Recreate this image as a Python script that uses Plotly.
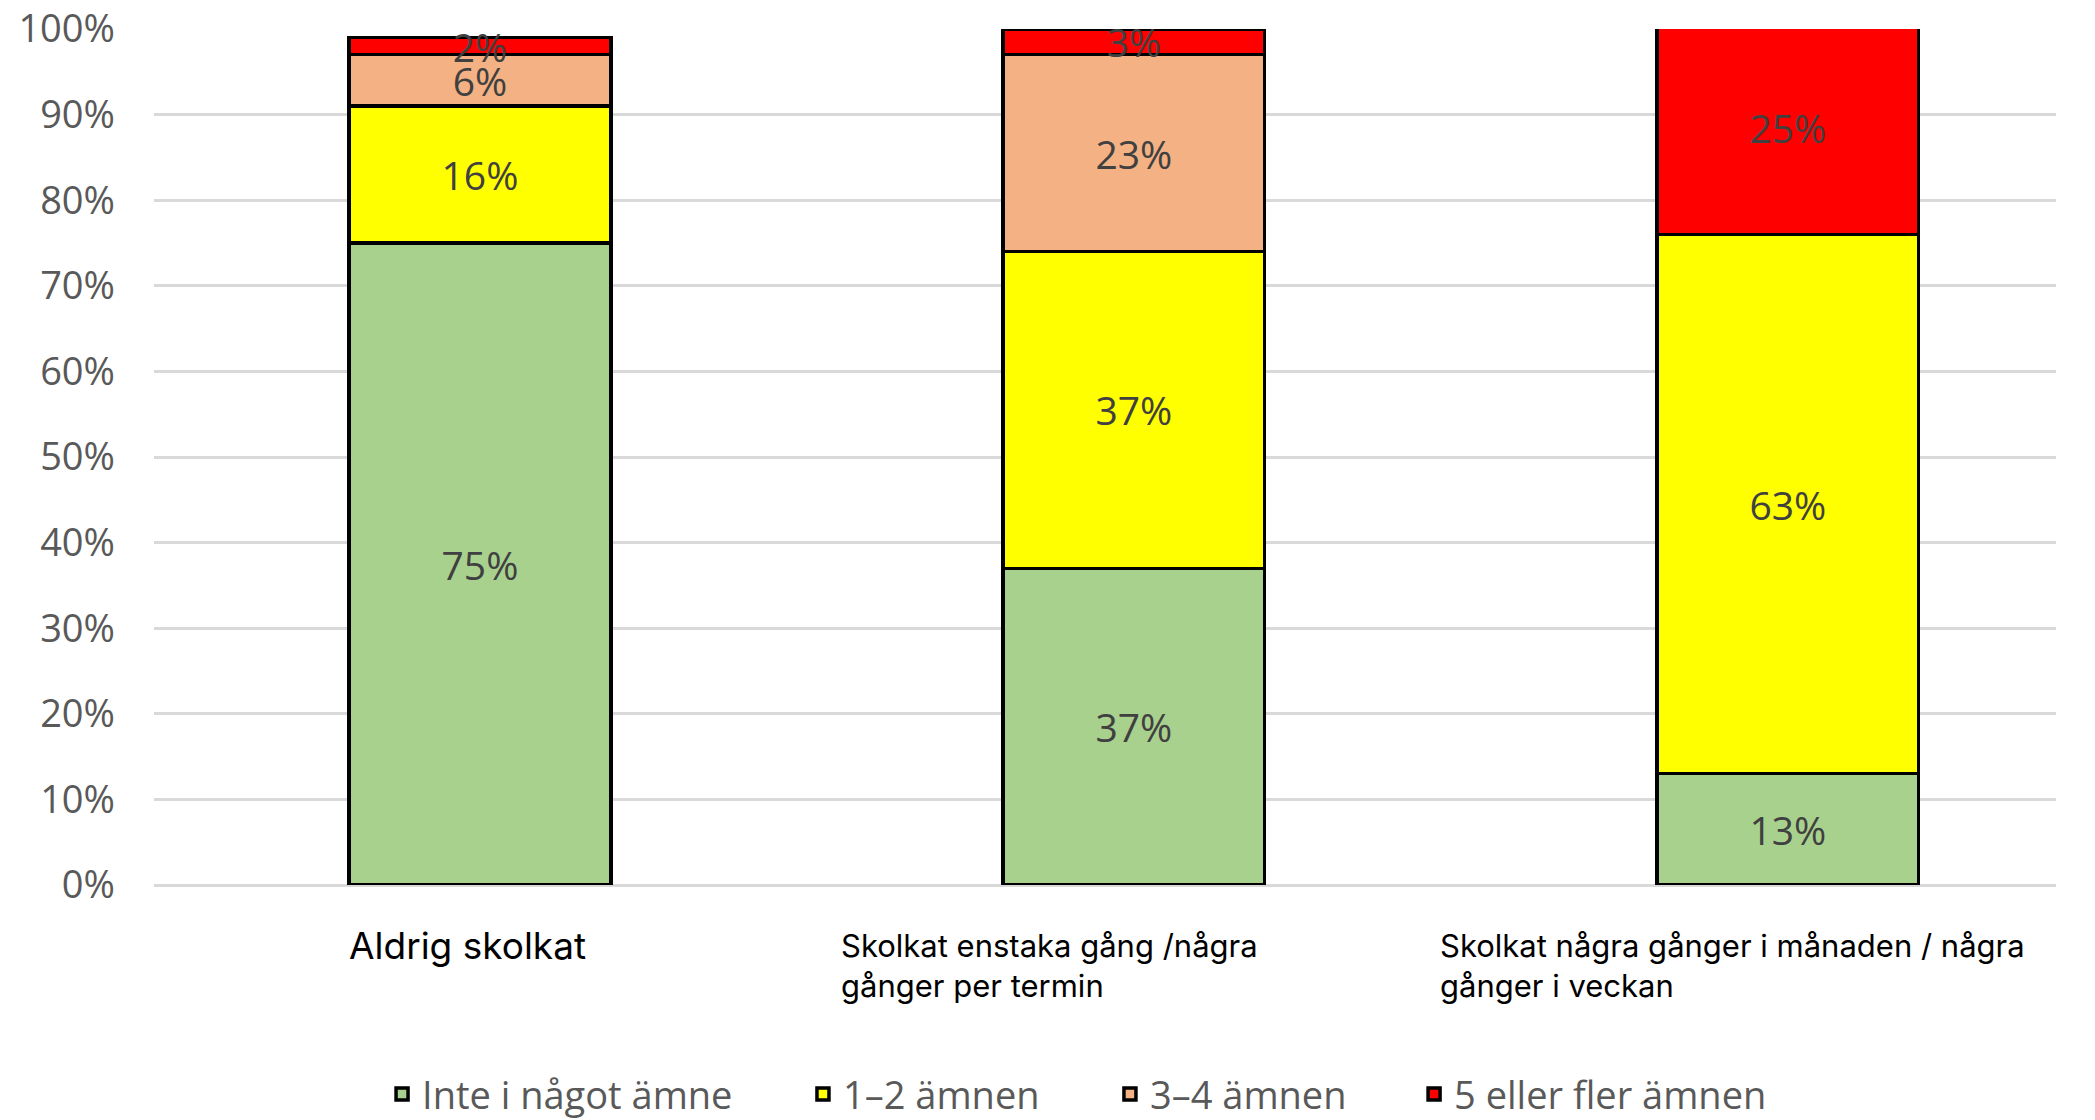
import plotly.graph_objects as go

# ---- data ----
categories = ["Aldrig skolkat",
              "Skolkat enstaka gång /några gånger per termin",
              "Skolkat några gånger i månaden / några gånger i veckan"]
category_lines = [["Aldrig skolkat"],
                  ["Skolkat enstaka gång /några", "gånger per termin"],
                  ["Skolkat några gånger i månaden / några", "gånger i veckan"]]
series_names = ["Inte i något ämne", "1–2 ämnen", "3–4 ämnen", "5 eller fler ämnen"]
inte_i_nagot = [75, 37, 13]
en_tva = [16, 37, 63]
tre_fyra = [6, 23, None]
fem_fler = [2, 3, 25]
y_ticks = [0, 10, 20, 30, 40, 50, 60, 70, 80, 90, 100]
y_tick_labels = [f"{v}%" for v in y_ticks]

# ---- styles / layout positions ----
colors = ["#A9D18E", "#FFFF00", "#F4B183", "#FF0000"]
series_values = [inte_i_nagot, en_tva, tre_fyra, fem_fler]
x_idx = list(range(len(categories)))
label_shift = [-0.203, -0.451, -0.535]   # left edge of category label, in category units
label_y = [-0.071, -0.094, -0.094]       # paper y (middle) of category labels
label_size = [37, 31, 31]
legend_ids = ["legend", "legend2", "legend3", "legend4"]
legend_x = [0.1199, 0.3412, 0.5026, 0.6625]  # paper x of each legend's left edge

FIG_W, FIG_H = 2095, 1120

fig = go.Figure()
for name, vals, col, lg in zip(series_names, series_values, colors, legend_ids):
    fig.add_trace(go.Bar(
        x=x_idx, y=vals, name=name, legend=lg,
        marker=dict(color=col, line=dict(color="black", width=3.5)),
        width=0.4,
        text=[None if v is None else f"{v}%" for v in vals],
        texttemplate="%{text}", textposition="inside",
        insidetextanchor="middle", textangle=0, constraintext="none",
        textfont=dict(family="Open Sans", size=39, color="#404040"),
        hoverinfo="skip",
    ))

annotations = []
for i, lines in enumerate(category_lines):
    annotations.append(dict(
        x=x_idx[i] + label_shift[i], xref="x", xanchor="left",
        y=label_y[i], yref="paper", yanchor="middle",
        text="<br>".join(lines), align="left", showarrow=False,
        font=dict(family="Inter", size=label_size[i], color="black"),
    ))

legend_common = dict(orientation="h", xanchor="left", y=-0.2445, yanchor="middle",
                     font=dict(family="Open Sans", size=38, color="#595959"),
                     bgcolor="rgba(0,0,0,0)", itemclick=False, itemdoubleclick=False)
legends = {}
for lg, lx in zip(legend_ids, legend_x):
    legends[lg] = dict(x=lx, **legend_common)

fig.update_layout(
    width=FIG_W, height=FIG_H,
    margin=dict(l=154, r=39, t=29, b=235, autoexpand=False),
    paper_bgcolor="white", plot_bgcolor="white",
    barmode="stack",
    uniformtext=dict(mode="show", minsize=39),
    showlegend=True,
    annotations=annotations,
    xaxis=dict(range=[-0.4985, 2.41], showticklabels=False, showgrid=False,
               zeroline=False, showline=False, ticks=""),
    yaxis=dict(range=[0, 100], tickvals=y_ticks, ticktext=y_tick_labels,
               showgrid=True, gridcolor="#D9D9D9", gridwidth=3,
               zeroline=True, zerolinecolor="#D9D9D9", zerolinewidth=3,
               showline=False, ticks="", ticklabelstandoff=38,
               ticklabeloverflow="allow",
               tickfont=dict(family="Open Sans", size=38, color="#595959")),
    **legends,
)

# remove the browser's default 8px body margin so the figure fills the window exactly
fig.write_html("out.html",
               config={"displayModeBar": False},
               post_script="document.body.style.margin='0px';document.body.style.overflow='hidden';")
